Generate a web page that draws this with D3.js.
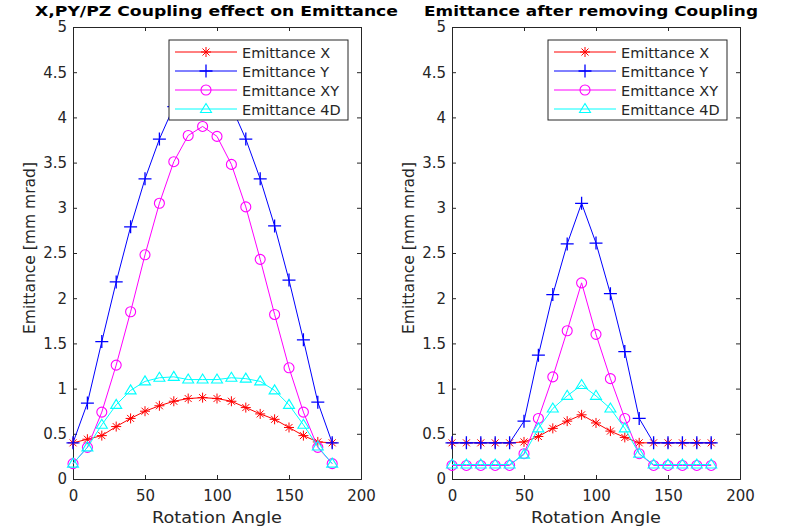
<!DOCTYPE html>
<html>
<head>
<meta charset="utf-8">
<script src="https://cdn.jsdelivr.net/npm/d3@7"></script>
<style>
  body { margin: 0; background: #fff; }
  svg text { font-family: "DejaVu Sans", "Liberation Sans", sans-serif; }
</style>
</head>
<body>
<svg id="chart" width="794" height="532"></svg>
<script>
// rotation angle (deg)
const angles = [0, 10, 20, 30, 40, 50, 60, 70, 80, 90, 100, 110, 120, 130, 140, 150, 160, 170, 180];

// left panel: with coupling
const coupledX  = [0.40, 0.44, 0.48, 0.58, 0.67, 0.75, 0.81, 0.86, 0.89, 0.90, 0.89, 0.86, 0.79, 0.72, 0.66, 0.57, 0.48, 0.41, 0.40];
const coupledY  = [0.40, 0.84, 1.52, 2.18, 2.79, 3.32, 3.76, 4.12, 4.32, 4.40, 4.32, 4.12, 3.76, 3.32, 2.80, 2.20, 1.54, 0.85, 0.40];
const coupledXY = [0.17, 0.35, 0.74, 1.26, 1.85, 2.48, 3.05, 3.51, 3.80, 3.90, 3.79, 3.48, 3.01, 2.43, 1.82, 1.23, 0.74, 0.35, 0.17];
const coupled4D = [0.17, 0.35, 0.60, 0.82, 0.98, 1.08, 1.12, 1.13, 1.10, 1.10, 1.10, 1.12, 1.11, 1.08, 0.98, 0.82, 0.60, 0.36, 0.17];

// right panel: after removing coupling
const removedX  = [0.40, 0.40, 0.40, 0.40, 0.40, 0.41, 0.47, 0.56, 0.64, 0.71, 0.62, 0.53, 0.46, 0.40, 0.40, 0.40, 0.40, 0.40, 0.40];
const removedY  = [0.40, 0.40, 0.40, 0.40, 0.40, 0.64, 1.37, 2.04, 2.60, 3.05, 2.61, 2.05, 1.41, 0.67, 0.40, 0.40, 0.40, 0.40, 0.40];
const removedXY = [0.15, 0.15, 0.15, 0.15, 0.15, 0.28, 0.67, 1.13, 1.64, 2.17, 1.60, 1.11, 0.67, 0.28, 0.15, 0.15, 0.15, 0.15, 0.15];
const removed4D = [0.16, 0.16, 0.16, 0.16, 0.16, 0.27, 0.56, 0.78, 0.92, 1.04, 0.92, 0.78, 0.56, 0.28, 0.16, 0.16, 0.16, 0.16, 0.16];

const seriesNames = ['Emittance X', 'Emittance Y', 'Emittance XY', 'Emittance 4D'];
const seriesColors = ['#ff0000', '#0000ff', '#ff00ff', '#00ffff'];
const seriesMarkers = ['star', 'plus', 'circle', 'triangle'];

const xTicks = [0, 50, 100, 150, 200];
const yTicks = [0, 0.5, 1, 1.5, 2, 2.5, 3, 3.5, 4, 4.5, 5];

const svg = d3.select('#chart');
const axisColor = '#262626';

function drawMarker(g, type, color, x, y) {
    if (type === 'star') {
        const r = 5;
        g.append('path')
            .attr('d', `M${x - r},${y}L${x + r},${y}M${x},${y - r}L${x},${y + r}` +
                `M${x - r * 0.7},${y - r * 0.7}L${x + r * 0.7},${y + r * 0.7}M${x - r * 0.7},${y + r * 0.7}L${x + r * 0.7},${y - r * 0.7}`)
            .attr('stroke', color).attr('stroke-width', 1).attr('fill', 'none');
    } else if (type === 'plus') {
        const r = 6.5;
        g.append('path')
            .attr('d', `M${x - r},${y}L${x + r},${y}M${x},${y - r}L${x},${y + r}`)
            .attr('stroke', color).attr('stroke-width', 1.3).attr('fill', 'none');
    } else if (type === 'circle') {
        g.append('circle').attr('cx', x).attr('cy', y).attr('r', 5)
            .attr('stroke', color).attr('stroke-width', 1.1).attr('fill', 'none');
    } else {
        g.append('path')
            .attr('d', `M${x},${y - 5.5}L${x + 5.5},${y + 3.5}L${x - 5.5},${y + 3.5}Z`)
            .attr('stroke', color).attr('stroke-width', 1.1).attr('fill', 'none');
    }
}

function drawPanel(cfg) {
    const g = svg.append('g');
    const x = d3.scaleLinear().domain([0, 200]).range([cfg.left, cfg.right]);
    const y = d3.scaleLinear().domain([0, 5]).range([479, 27]);

    // axes (MATLAB style: ticks inward, box on)
    const xAxis = d3.axisBottom(x).tickValues(xTicks).tickSize(-4).tickPadding(11).tickFormat(d3.format('d'));
    const xAxisTop = d3.axisTop(x).tickValues(xTicks).tickSize(-4).tickFormat('');
    const yAxis = d3.axisLeft(y).tickValues(yTicks).tickSize(-4).tickPadding(6).tickFormat(d => d);
    const yAxisRight = d3.axisRight(y).tickValues(yTicks).tickSize(-4).tickFormat('');

    const styleAxis = sel => {
        sel.selectAll('path, line').attr('stroke', axisColor);
        sel.selectAll('text').attr('fill', axisColor).style('font-size', '15px')
            .style('font-family', '"DejaVu Sans", sans-serif');
    };
    g.append('g').attr('transform', 'translate(0,479)').call(xAxis).call(styleAxis);
    g.append('g').attr('transform', 'translate(0,27)').call(xAxisTop).call(styleAxis);
    g.append('g').attr('transform', `translate(${cfg.left},0)`).call(yAxis).call(styleAxis);
    g.append('g').attr('transform', `translate(${cfg.right},0)`).call(yAxisRight).call(styleAxis);

    // lines + markers
    const line = d3.line().x((d, i) => x(angles[i])).y(d => y(d));
    cfg.series.forEach((vals, si) => {
        g.append('path').datum(vals).attr('d', line)
            .attr('fill', 'none').attr('stroke', seriesColors[si]).attr('stroke-width', 1);
        vals.forEach((v, i) => drawMarker(g, seriesMarkers[si], seriesColors[si], x(angles[i]), y(v)));
    });

    // labels
    g.append('text').attr('x', cfg.titleX).attr('y', 16)
        .attr('text-anchor', 'middle').style('font-size', '14.5px').style('font-weight', 'bold')
        .attr('textLength', cfg.titleLen).attr('lengthAdjust', 'spacingAndGlyphs')
        .attr('fill', '#000').text(cfg.title);
    g.append('text').attr('x', (cfg.left + cfg.right) / 2).attr('y', 523)
        .attr('text-anchor', 'middle').style('font-size', '15.5px').attr('fill', axisColor)
        .attr('textLength', 130).attr('lengthAdjust', 'spacingAndGlyphs')
        .text('Rotation Angle');
    g.append('text').attr('transform', `translate(${cfg.left - 38},248) rotate(-90)`)
        .attr('text-anchor', 'middle').style('font-size', '16px').attr('fill', axisColor)
        .attr('textLength', 172).attr('lengthAdjust', 'spacingAndGlyphs')
        .text('Emittance [mm mrad]');

    // legend
    const lg = g.append('g').attr('transform', `translate(${cfg.legendX},40)`);
    lg.append('rect').attr('width', 179).attr('height', 80)
        .attr('fill', '#fff').attr('stroke', axisColor).attr('stroke-width', 1);
    seriesNames.forEach((name, i) => {
        const ry = 12 + i * 19;
        lg.append('line').attr('x1', 6).attr('x2', 68).attr('y1', ry).attr('y2', ry)
            .attr('stroke', seriesColors[i]).attr('stroke-width', 1);
        drawMarker(lg, seriesMarkers[i], seriesColors[i], 37, ry);
        lg.append('text').attr('x', 73).attr('y', ry + 5.5)
            .style('font-size', '14.5px').attr('fill', axisColor).text(name);
    });
}

drawPanel({
    left: 73, right: 361, legendX: 169,
    titleX: 216.5, titleLen: 363,
    title: 'X,PY/PZ Coupling effect on Emittance',
    series: [coupledX, coupledY, coupledXY, coupled4D]
});
drawPanel({
    left: 452, right: 740, legendX: 548,
    titleX: 591, titleLen: 334,
    title: 'Emittance after removing Coupling',
    series: [removedX, removedY, removedXY, removed4D]
});
</script>
</body>
</html>
